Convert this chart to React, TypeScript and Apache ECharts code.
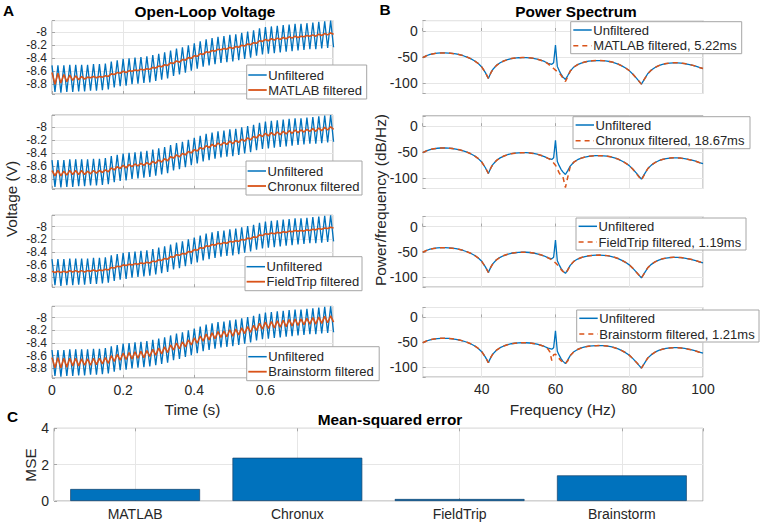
import React, { useEffect, useRef } from "react";
import * as echarts from "echarts";

// ---------- data ----------
// Open-loop voltage, read at every half period of the 60 Hz ripple (extrema of the trace)
const HALF_PERIOD_S = 1 / 120;
const TIME_MAX_S = 0.79;

const unfilteredV = [
  -8.51, -8.92, -8.51, -8.93, -8.51, -8.92, -8.50, -8.92, -8.50, -8.91,
  -8.50, -8.91, -8.50, -8.90, -8.49, -8.90, -8.49, -8.89, -8.48, -8.88,
  -8.45, -8.85, -8.43, -8.83, -8.41, -8.82, -8.40, -8.80, -8.39, -8.79,
  -8.38, -8.78, -8.37, -8.77, -8.35, -8.75, -8.33, -8.73, -8.31, -8.71,
  -8.28, -8.67, -8.25, -8.65, -8.23, -8.62, -8.20, -8.59, -8.17, -8.56,
  -8.14, -8.53, -8.11, -8.51, -8.09, -8.49, -8.07, -8.47, -8.06, -8.46,
  -8.04, -8.45, -8.03, -8.43, -8.01, -8.41, -7.99, -8.39, -7.97, -8.36,
  -7.94, -8.34, -7.92, -8.33, -7.91, -8.32, -7.90, -8.31, -7.89, -8.30,
  -7.88, -8.29, -7.87, -8.28, -7.87, -8.27, -7.86, -8.26, -7.85, -8.26,
  -7.84, -8.25, -7.83, -8.24, -7.82, -8.23,
];

const matlabFilteredV = [
  -8.62, -8.80, -8.63, -8.78, -8.65, -8.76, -8.66, -8.74, -8.67, -8.73,
  -8.68, -8.72, -8.69, -8.70, -8.68, -8.70, -8.68, -8.69, -8.67, -8.68,
  -8.64, -8.65, -8.62, -8.63, -8.60, -8.62, -8.59, -8.60, -8.58, -8.59,
  -8.57, -8.58, -8.56, -8.57, -8.54, -8.55, -8.52, -8.53, -8.50, -8.51,
  -8.47, -8.48, -8.44, -8.46, -8.42, -8.43, -8.39, -8.40, -8.36, -8.37,
  -8.33, -8.34, -8.30, -8.31, -8.28, -8.29, -8.26, -8.27, -8.25, -8.26,
  -8.23, -8.25, -8.22, -8.23, -8.20, -8.21, -8.18, -8.19, -8.16, -8.17,
  -8.13, -8.14, -8.11, -8.13, -8.10, -8.12, -8.09, -8.11, -8.08, -8.10,
  -8.07, -8.09, -8.06, -8.08, -8.06, -8.07, -8.05, -8.06, -8.04, -8.06,
  -8.03, -8.05, -8.02, -8.04, -8.01, -8.03,
];

const chronuxFilteredV = [
  -8.67, -8.75, -8.67, -8.75, -8.68, -8.74, -8.67, -8.73, -8.67, -8.73,
  -8.67, -8.73, -8.68, -8.72, -8.67, -8.71, -8.67, -8.70, -8.66, -8.69,
  -8.63, -8.66, -8.61, -8.64, -8.59, -8.63, -8.58, -8.61, -8.57, -8.60,
  -8.56, -8.59, -8.55, -8.58, -8.53, -8.56, -8.51, -8.54, -8.49, -8.52,
  -8.46, -8.48, -8.43, -8.46, -8.41, -8.43, -8.38, -8.40, -8.35, -8.37,
  -8.32, -8.34, -8.29, -8.32, -8.27, -8.30, -8.25, -8.28, -8.24, -8.27,
  -8.22, -8.26, -8.21, -8.24, -8.19, -8.22, -8.17, -8.20, -8.15, -8.17,
  -8.12, -8.15, -8.10, -8.14, -8.09, -8.13, -8.08, -8.12, -8.07, -8.11,
  -8.06, -8.10, -8.05, -8.09, -8.05, -8.08, -8.04, -8.07, -8.03, -8.07,
  -8.02, -8.06, -8.01, -8.05, -8.00, -8.04,
];

const fieldtripFilteredV = [
  -8.70, -8.72, -8.70, -8.72, -8.70, -8.72, -8.69, -8.71, -8.69, -8.71,
  -8.69, -8.71, -8.69, -8.70, -8.68, -8.70, -8.68, -8.69, -8.67, -8.68,
  -8.64, -8.65, -8.62, -8.63, -8.60, -8.61, -8.59, -8.60, -8.58, -8.59,
  -8.57, -8.58, -8.56, -8.57, -8.54, -8.55, -8.52, -8.53, -8.50, -8.51,
  -8.47, -8.48, -8.44, -8.45, -8.42, -8.43, -8.39, -8.40, -8.36, -8.37,
  -8.33, -8.34, -8.30, -8.31, -8.28, -8.29, -8.26, -8.27, -8.25, -8.26,
  -8.23, -8.24, -8.22, -8.23, -8.20, -8.21, -8.18, -8.19, -8.16, -8.17,
  -8.13, -8.14, -8.11, -8.12, -8.10, -8.11, -8.09, -8.10, -8.08, -8.09,
  -8.07, -8.08, -8.06, -8.07, -8.06, -8.07, -8.05, -8.06, -8.04, -8.05,
  -8.03, -8.04, -8.02, -8.03, -8.01, -8.02,
];

const brainstormFilteredV = [
  -8.63, -8.79, -8.63, -8.79, -8.64, -8.78, -8.64, -8.76, -8.64, -8.76,
  -8.65, -8.75, -8.65, -8.75, -8.64, -8.74, -8.64, -8.73, -8.63, -8.72,
  -8.60, -8.69, -8.58, -8.67, -8.56, -8.66, -8.55, -8.65, -8.54, -8.64,
  -8.53, -8.63, -8.52, -8.61, -8.50, -8.59, -8.48, -8.57, -8.46, -8.55,
  -8.43, -8.51, -8.40, -8.49, -8.38, -8.46, -8.35, -8.43, -8.32, -8.40,
  -8.29, -8.37, -8.26, -8.35, -8.24, -8.33, -8.22, -8.31, -8.21, -8.30,
  -8.19, -8.29, -8.18, -8.27, -8.16, -8.25, -8.14, -8.23, -8.12, -8.20,
  -8.09, -8.18, -8.07, -8.17, -8.06, -8.16, -8.05, -8.15, -8.04, -8.14,
  -8.03, -8.13, -8.02, -8.12, -8.02, -8.11, -8.01, -8.10, -8.00, -8.10,
  -7.99, -8.09, -7.98, -8.08, -7.97, -8.07,
];

// Power spectrum (dB/Hz)
const freqHz = [
  24, 25, 26, 27, 28, 29, 30, 31, 32, 33, 34, 35, 36, 37, 38, 39, 40, 41, 41.8, 42.5,
  43, 44, 45, 46, 47, 48, 49, 50, 51, 52, 53, 54, 55, 56, 57,
  58, 58.5, 59, 59.5, 60, 60.5, 61, 61.5, 62, 62.7, 63.3,
  64, 65, 66, 67, 68, 69, 70, 71, 72, 73, 74, 75, 76, 77, 78, 79, 80, 81, 82,
  83.3, 84.5, 85, 86, 87, 88, 89, 90, 91, 92, 93, 94, 95, 96, 97, 98, 99, 100,
];

const psdUnfiltered = [
  -51, -47.5, -45, -43.5, -42.5, -42, -42, -42.3, -43, -44, -45.5, -47.5, -50, -53, -57, -62, -69, -80, -91, -80,
  -74, -66, -61, -57.5, -55, -53, -52, -51.3, -51, -51, -51.5, -52.5, -54, -56, -58.5,
  -62, -63, -64, -61, -27, -68, -76, -83, -88, -93, -86,
  -77, -69, -64.5, -61.5, -59.5, -58, -57.2, -56.8, -56.7, -57, -57.7, -59, -61, -63.5, -67, -71, -76, -83, -91,
  -102, -88, -82, -75, -70, -66.5, -64, -62.5, -61.5, -61, -61, -61.5, -62.5, -64, -65.5, -67.5, -70, -72,
];

const psdMatlab = [
  -51, -47.5, -45, -43.5, -42.5, -42, -42, -42.3, -43, -44, -45.5, -47.5, -50, -53, -57, -62, -69, -80, -91, -80,
  -74, -66, -61, -57.5, -55, -53, -52, -51.3, -51, -51, -51.5, -52.5, -54, -56, -58.5,
  -63, -66, -69, -72, -75, -78, -81, -85, -90, -97, -88,
  -77, -69, -64.5, -61.5, -59.5, -58, -57.2, -56.8, -56.7, -57, -57.7, -59, -61, -63.5, -67, -71, -76, -83, -91,
  -102, -88, -82, -75, -70, -66.5, -64, -62.5, -61.5, -61, -61, -61.5, -62.5, -64, -65.5, -67.5, -70, -72,
];

const psdChronux = [
  -51, -47.5, -45, -43.5, -42.5, -42, -42, -42.3, -43, -44, -45.5, -47.5, -50, -53, -57, -62, -69, -80, -91, -80,
  -74, -66, -61, -57.5, -55, -53, -52, -51.3, -51, -51, -51.5, -52.5, -54, -56, -58.5,
  -62, -64, -67, -71, -75, -82, -90, -95, -97, -118, -99,
  -78, -69, -64.5, -61.5, -59.5, -58, -57.2, -56.8, -56.7, -57, -57.7, -59, -61, -63.5, -67, -71, -76, -83, -92,
  -104, -88, -82, -75, -70, -66.5, -64, -62.5, -61.5, -61, -61, -61.5, -62.5, -64, -65.5, -67.5, -70, -72,
];

const psdFieldTrip = [
  -51, -47.5, -45, -43.5, -42.5, -42, -42, -42.3, -43, -44, -45.5, -47.5, -50, -53, -57, -62, -69, -80, -91, -80,
  -74, -66, -61, -57.5, -55, -53, -52, -51.3, -51, -51, -51.5, -52.5, -54, -56, -58.5,
  -62, -64, -66, -69, -72, -76, -80, -85, -89, -93, -87,
  -77, -69, -64.5, -61.5, -59.5, -58, -57.2, -56.8, -56.7, -57, -57.7, -59, -61, -63.5, -67, -71, -76, -83, -91,
  -102, -88, -82, -75, -70, -66.5, -64, -62.5, -61.5, -61, -61, -61.5, -62.5, -64, -65.5, -67.5, -70, -72,
];

const psdBrainstorm = [
  -51, -47.5, -45, -43.5, -42.5, -42, -42, -42.3, -43, -44, -45.5, -47.5, -50, -53, -57, -62, -69, -80, -91, -80,
  -74, -66, -61, -57.5, -55, -53, -52, -51.3, -51, -51, -51.5, -52.5, -54, -56, -58.5,
  -64, -70, -87, -75, -74, -78, -83, -87, -90, -93, -88,
  -77, -69, -64.5, -61.5, -59.5, -58, -57.2, -56.8, -56.7, -57, -57.7, -59, -61, -63.5, -67, -71, -76, -83, -91,
  -102, -88, -82, -75, -70, -66.5, -64, -62.5, -61.5, -61, -61, -61.5, -62.5, -64, -65.5, -67.5, -70, -72,
];

// Mean-squared error
const toolboxes = ["MATLAB", "Chronux", "FieldTrip", "Brainstorm"];
const mseValues = [0.66, 2.38, 0.11, 1.41];
const filterDurations = ["5.22ms", "18.67ms", "1.19ms", "1.21ms"];

const filteredVoltages = [matlabFilteredV, chronuxFilteredV, fieldtripFilteredV, brainstormFilteredV];
const filteredPsd = [psdMatlab, psdChronux, psdFieldTrip, psdBrainstorm];

// ---------- style / layout ----------
const BLUE = "#0072BD";
const ORANGE = "#D95319";
const FONT = "'Liberation Sans', Arial, Helvetica, sans-serif";
const TEXT = "#262626";
const AXIS_GRAY = "#a6a6a6";
const GRID_GRAY = "#e6e6e6";

const LEFT_ROW_TOP = [20.6, 115, 215.2, 306.3];
const LEFT_ROW_H = [73.4, 73.8, 72, 71.6];
const RIGHT_ROW_TOP = [20.6, 115.8, 216.5, 307.5];
const RIGHT_ROW_H = [72.9, 72.7, 70.5, 69.5];
const LEFT_X = 52;
const LEFT_W = 281;
const RIGHT_X = 422.7;
const RIGHT_W = 280.3;
const BAR_GRID = { left: 54, top: 428.3, width: 649, height: 72.7 };

// legend boxes: [left, top, width]
const LEFT_LEGEND = [[246.7, 65, 120], [246, 161, 116], [245, 256.7, 117], [246.7, 346.7, 132.5]];
const RIGHT_LEGEND = [[570.7, 21.7, 171], [573, 116.7, 177], [576, 218, 170], [576.7, 310, 182.3]];

const near = (v: number, step: number) => Math.abs(v / step - Math.round(v / step)) < 1e-6;

function legendGraphic(
  box: number[], h: number, rows: { name: string; color: string; width: number; dash?: number[] }[],
  icon0: number, icon1: number, textX: number, rowY: number[],
) {
  const [x, y, w] = box;
  const children: any[] = [
    { type: "rect", z: 60, shape: { x: 0, y: 0, width: w, height: h }, style: { fill: "#ffffff", stroke: AXIS_GRAY, lineWidth: 1 } },
  ];
  rows.forEach((r, k) => {
    children.push({
      type: "line", z: 61,
      shape: { x1: icon0, y1: rowY[k], x2: icon1, y2: rowY[k] },
      style: { stroke: r.color, lineWidth: r.width, lineDash: r.dash ?? null },
    });
    children.push({
      type: "text", z: 61, x: textX, y: rowY[k],
      style: {
        text: r.name, fill: TEXT, font: `13px ${FONT}`,
        textAlign: "left", textVerticalAlign: "middle", align: "left", verticalAlign: "middle",
      },
    });
  });
  return { type: "group", x, y, z: 60, children };
}

function buildOption(): any {
  const grid: any[] = [];
  const xAxis: any[] = [];
  const yAxis: any[] = [];
  const series: any[] = [];

  const tick = { show: true, inside: true, length: 3, lineStyle: { color: AXIS_GRAY, width: 1 } };
  const split = { show: true, lineStyle: { color: GRID_GRAY, width: 1 } };
  const lbl = (show: boolean, formatter: any, margin: number, size = 14, lh = 12) => ({
    show, formatter, margin, fontSize: size, lineHeight: lh, color: TEXT, fontFamily: FONT,
  });
  const gridBox = (left: number, top: number, width: number, height: number) => ({
    left, top, width, height, show: true, borderColor: AXIS_GRAY, borderWidth: 1,
    backgroundColor: "#ffffff", containLabel: false, outerBoundsMode: "none",
  });

  const fmtTime = (v: number) => (near(v, 0.2) ? String(+v.toFixed(1)) : "");
  const fmtVolt = (v: number) => (near(v, 0.2) ? String(+v.toFixed(1)) : "");
  const fmtFreq = (v: number) => (near(v, 20) ? String(Math.round(v)) : "");
  const fmtDb = (v: number) => (near(v, 50) ? String(Math.round(v)) : "");

  // left column: open-loop voltage
  for (let i = 0; i < 4; i++) {
    grid.push(gridBox(LEFT_X, LEFT_ROW_TOP[i], LEFT_W, LEFT_ROW_H[i]));
    xAxis.push({
      type: "value", gridIndex: i, min: 0, max: TIME_MAX_S, splitNumber: 4,
      axisLine: { show: false }, axisTick: tick, splitLine: split,
      axisLabel: lbl(i === 3, fmtTime, 6),
    });
    yAxis.push({
      type: "value", gridIndex: i, min: -8.95, max: -7.82, splitNumber: 5,
      axisLine: { show: false }, axisTick: tick, splitLine: split,
      axisLabel: lbl(true, fmtVolt, 5, 12, 11),
    });
  }
  // right column: power spectrum
  for (let i = 0; i < 4; i++) {
    grid.push(gridBox(RIGHT_X, RIGHT_ROW_TOP[i], RIGHT_W, RIGHT_ROW_H[i]));
    xAxis.push({
      type: "value", gridIndex: 4 + i, min: 24, max: 100, splitNumber: 4,
      axisLine: { show: false }, axisTick: tick, splitLine: split,
      axisLabel: lbl(i === 3, fmtFreq, 6),
    });
    yAxis.push({
      type: "value", gridIndex: 4 + i, min: -120, max: 20, splitNumber: 3,
      axisLine: { show: false }, axisTick: tick, splitLine: split,
      axisLabel: lbl(true, fmtDb, 5),
    });
  }
  // bottom: MSE bar chart
  grid.push(gridBox(BAR_GRID.left, BAR_GRID.top, BAR_GRID.width, BAR_GRID.height));
  xAxis.push({
    type: "category", gridIndex: 8, data: toolboxes, position: "bottom",
    axisLine: { show: false }, axisTick: { ...tick, alignWithLabel: true }, splitLine: { show: false },
    axisLabel: lbl(true, undefined, 7),
  });
  xAxis.push({
    type: "value", gridIndex: 8, position: "top", min: 0.5, max: 4.5, splitNumber: 4,
    axisLine: { show: false }, axisTick: tick, splitLine: split, axisLabel: { show: false },
  });
  yAxis.push({
    type: "value", gridIndex: 8, min: 0, max: 4, interval: 2,
    axisLine: { show: false }, axisTick: tick, splitLine: split,
    axisLabel: lbl(true, undefined, 5),
  });

  const legends: any[] = [];
  for (let i = 0; i < 4; i++) {
    const tb = toolboxes[i];
    const leftName = `${tb} filtered`;
    const rightName = `${tb} filtered, ${filterDurations[i]}`;
    series.push({
      type: "line", name: "Unfiltered", xAxisIndex: i, yAxisIndex: i, symbol: "none", z: 2,
      data: unfilteredV.map((v, k) => [k * HALF_PERIOD_S, v]),
      lineStyle: { color: BLUE, width: 1.3 }, itemStyle: { color: BLUE },
    });
    series.push({
      type: "line", name: leftName, xAxisIndex: i, yAxisIndex: i, symbol: "none", z: 3,
      data: filteredVoltages[i].map((v, k) => [k * HALF_PERIOD_S, v]),
      lineStyle: { color: ORANGE, width: 1.6 }, itemStyle: { color: ORANGE },
    });
    series.push({
      type: "line", name: "Unfiltered", xAxisIndex: 4 + i, yAxisIndex: 4 + i, symbol: "none", z: 2,
      data: freqHz.map((f, k) => [f, psdUnfiltered[k]]),
      lineStyle: { color: BLUE, width: 1.3 }, itemStyle: { color: BLUE },
    });
    series.push({
      type: "line", name: rightName, xAxisIndex: 4 + i, yAxisIndex: 4 + i, symbol: "none", z: 3,
      data: freqHz.map((f, k) => [f, filteredPsd[i][k]]),
      lineStyle: { color: ORANGE, width: 1.5, type: [5, 4] }, itemStyle: { color: ORANGE },
    });
    legends.push(legendGraphic(
      LEFT_LEGEND[i], 34,
      [{ name: "Unfiltered", color: BLUE, width: 1.5 }, { name: leftName, color: ORANGE, width: 1.8 }],
      1.6, 20, 21.6, [10, 25],
    ));
    legends.push(legendGraphic(
      RIGHT_LEGEND[i], 32,
      [{ name: "Unfiltered", color: BLUE, width: 1.5 }, { name: rightName, color: ORANGE, width: 1.6, dash: [5, 4] }],
      2.6, 21, 22.6, [8.3, 24],
    ));
  }
  series.push({
    type: "bar", name: "MSE", xAxisIndex: 8, yAxisIndex: 8, data: mseValues, barWidth: "80%",
    itemStyle: { color: BLUE, borderColor: "#15416a", borderWidth: 0.7 },
  });

  const txt = (text: string, x: number, y: number, size: number, bold: boolean, align = "center", rotation = 0) => ({
    type: "text", x, y, rotation, z: 100,
    style: {
      text, fill: bold ? "#000000" : TEXT,
      font: `${bold ? "bold " : ""}${size}px ${FONT}`,
      textAlign: align, textVerticalAlign: "middle", align, verticalAlign: "middle",
    },
  });

  const graphic = [
    txt("A", 3, 10.5, 15.4, true, "left"),
    txt("Open-Loop Voltage", 205, 11.5, 15.4, true),
    txt("B", 379.5, 9.5, 15.4, true, "left"),
    txt("Power Spectrum", 576, 11.5, 15.4, true),
    txt("Time (s)", 192.5, 409, 15.4, false),
    txt("Frequency (Hz)", 562.8, 409, 15.4, false),
    txt("C", 7, 416, 15.4, true, "left"),
    txt("Mean-squared error", 390, 419, 15.4, true),
    txt("Voltage (V)", 11, 199, 15.4, false, "center", Math.PI / 2),
    txt("Power/frequency (dB/Hz)", 380.5, 200, 15.4, false, "center", Math.PI / 2),
    txt("MSE", 30, 465, 15.4, false, "center", Math.PI / 2),
    ...legends,
  ];

  return {
    animation: false,
    backgroundColor: "#ffffff",
    textStyle: { fontFamily: FONT },
    grid, xAxis, yAxis, series, graphic,
  };
}

export default function App() {
  const ref = useRef<HTMLDivElement>(null);
  useEffect(() => {
    if (!ref.current) return;
    const chart = echarts.init(ref.current, null, { renderer: "svg" });
    chart.setOption(buildOption());
    return () => chart.dispose();
  }, []);
  return (
    <div
      ref={ref}
      style={{ position: "absolute", left: 0, top: 0, width: 765, height: 526, background: "#ffffff" }}
    />
  );
}
